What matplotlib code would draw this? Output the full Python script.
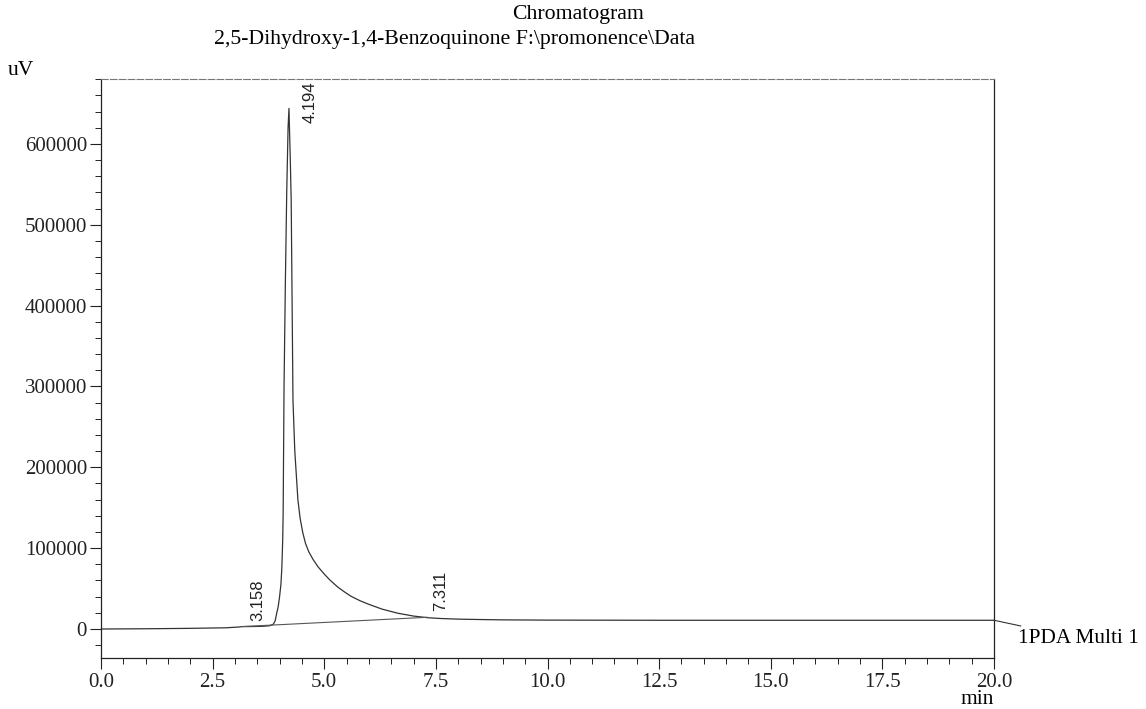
import matplotlib
matplotlib.use("Agg")
import matplotlib.pyplot as plt
from matplotlib.ticker import MultipleLocator, FormatStrFormatter

# chromatogram trace (time in min, signal in uV)
time_min = [0.0, 1.0, 2.0, 2.8, 3.1, 3.158, 3.3, 3.6, 3.78, 3.86, 3.9, 3.93,
            3.97, 4.0, 4.03, 4.05, 4.07, 4.08, 4.1, 4.13, 4.16, 4.19, 4.21,
            4.24, 4.26, 4.28, 4.3, 4.34, 4.41, 4.46, 4.52, 4.58, 4.65, 4.75,
            4.86, 5.0, 5.12, 5.3, 5.45, 5.6, 5.8, 6.0, 6.3, 6.65, 7.0, 7.311,
            7.6, 8.0, 8.5, 9.0, 10.0, 12.5, 15.0, 17.5, 20.0]
signal_uv = [0, 300, 800, 1500, 2500, 3000, 3000, 3300, 4000, 6000, 10000,
             18000, 28000, 40000, 55000, 75000, 110000, 143000, 300000,
             430000, 540000, 620000, 644000, 580000, 531000, 407000, 283000,
             221000, 160000, 137000, 119000, 106000, 96000, 86000, 77000,
             68000, 61000, 52000, 46000, 40500, 35000, 30500, 24500, 19500,
             16000, 14000, 13000, 12200, 11700, 11300, 11000, 10800, 10800,
             10800, 10800]

# integration baseline under the main peak
baseline_t = [3.158, 7.311]
baseline_uv = [3000, 14500]

# peak labels: retention time, height, label offset in pixels
peak_times = [3.158, 4.194, 7.311]
peak_heights = [3000, 644000, 14000]
peak_offsets = [(8, 6), (14, -15), (6, 7)]

plt.rcParams['font.family'] = ['Liberation Serif', 'DejaVu Serif']

fig = plt.figure(figsize=(11.46, 7.09), dpi=100)
ax = fig.add_axes([0.0881, 0.0719, 0.7793, 0.8167])

ax.plot(time_min, signal_uv, color='#333333', lw=0.9)
ax.plot(baseline_t, baseline_uv, color='#555555', lw=0.8)

for t, h, off in zip(peak_times, peak_heights, peak_offsets):
    ax.annotate('{:.3f}'.format(t), xy=(t, h), xytext=off,
                textcoords='offset pixels', rotation=90,
                ha='left', va='bottom', fontsize=12,
                family=['Liberation Sans', 'DejaVu Sans'], color='#222222')

ax.set_xlim(0, 20)
ax.set_ylim(-35900, 680400)

ax.xaxis.set_major_locator(MultipleLocator(2.5))
ax.xaxis.set_minor_locator(MultipleLocator(0.5))
ax.xaxis.set_major_formatter(FormatStrFormatter('%.1f'))
ax.yaxis.set_major_locator(MultipleLocator(100000))
ax.yaxis.set_minor_locator(MultipleLocator(20000))

ax.tick_params(axis='both', which='major', length=8, width=0.8,
               labelsize=15, direction='out', colors='#222222')
ax.tick_params(axis='both', which='minor', length=4, width=0.7,
               direction='out', colors='#222222')
ax.tick_params(axis='x', which='major', pad=3)
ax.tick_params(axis='y', which='major', pad=2)

for s in ['left', 'bottom', 'right']:
    ax.spines[s].set_linewidth(0.9)
    ax.spines[s].set_color('#222222')
ax.spines['top'].set_linestyle((0, (6, 2)))
ax.spines['top'].set_color('#777777')
ax.spines['top'].set_linewidth(0.8)

# channel name with a short leader from the trace end
ax.annotate('1PDA Multi 1', xy=(20, signal_uv[-1]), xytext=(24, -18),
            textcoords='offset pixels', ha='left', va='center', fontsize=15.3,
            annotation_clip=False,
            arrowprops=dict(arrowstyle='-', color='#333333', lw=0.8,
                            shrinkA=0, shrinkB=0))

fig.text(0.504, 0.980, 'Chromatogram', ha='center', va='center', fontsize=15.7)
fig.text(0.397, 0.944, '2,5-Dihydroxy-1,4-Benzoquinone F:\\promonence\\Data',
         ha='center', va='center', fontsize=15.7)
fig.text(0.007, 0.901, 'uV', ha='left', va='center', fontsize=15.5)
fig.text(0.853, 0.0127, 'min', ha='center', va='center', fontsize=15.5)

plt.savefig('out.png', dpi=100)
